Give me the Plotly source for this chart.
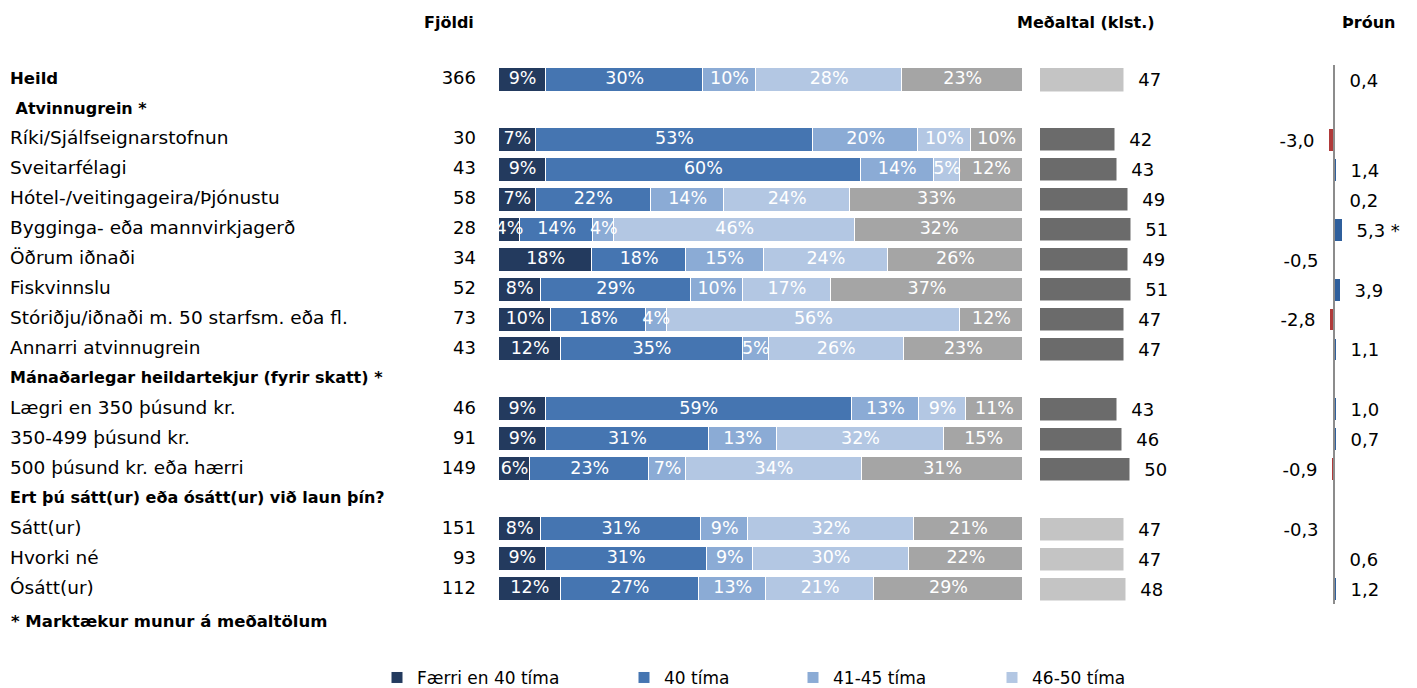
import plotly.graph_objects as go

# ---------------- data ----------------
row_labels = [
    "Heild", "Atvinnugrein *", "Ríki/Sjálfseignarstofnun", "Sveitarfélagi",
    "Hótel-/veitingageira/Þjónustu", "Bygginga- eða mannvirkjagerð", "Öðrum iðnaði",
    "Fiskvinnslu", "Stóriðju/iðnaði m. 50 starfsm. eða fl.", "Annarri atvinnugrein",
    "Mánaðarlegar heildartekjur (fyrir skatt) *", "Lægri en 350 þúsund kr.",
    "350-499 þúsund kr.", "500 þúsund kr. eða hærri",
    "Ert þú sátt(ur) eða ósátt(ur) við laun þín?", "Sátt(ur)", "Hvorki né", "Ósátt(ur)",
]
row_kind = ["total", "header", "item", "item", "item", "item", "item", "item", "item", "item",
            "header", "item", "item", "item", "header", "item", "item", "item"]
row_group = ["total", "industry", "industry", "industry", "industry", "industry", "industry",
             "industry", "industry", "industry", "income", "income", "income", "income",
             "satisfaction", "satisfaction", "satisfaction", "satisfaction"]
counts = [366, None, 30, 43, 58, 28, 34, 52, 73, 43, None, 46, 91, 149, None, 151, 93, 112]

series_names = ["Færri en 40 tíma", "40 tíma", "41-45 tíma", "46-50 tíma", "Meira en 50 tíma"]
pct_under_40 = [9, None, 7, 9, 7, 4, 18, 8, 10, 12, None, 9, 9, 6, None, 8, 9, 12]
pct_40 = [30, None, 53, 60, 22, 14, 18, 29, 18, 35, None, 59, 31, 23, None, 31, 31, 27]
pct_41_45 = [10, None, 20, 14, 14, 4, 15, 10, 4, 5, None, 13, 13, 7, None, 9, 9, 13]
pct_46_50 = [28, None, 10, 5, 24, 46, 24, 17, 56, 26, None, 9, 32, 34, None, 32, 30, 21]
pct_over_50 = [23, None, 10, 12, 33, 32, 26, 37, 12, 23, None, 11, 15, 31, None, 21, 22, 29]

mean_hours = [47, None, 42, 43, 49, 51, 49, 51, 47, 47, None, 43, 46, 50, None, 47, 47, 48]
trend = [0.4, None, -3.0, 1.4, 0.2, 5.3, -0.5, 3.9, -2.8, 1.1, None, 1.0, 0.7, -0.9, None, -0.3, 0.6, 1.2]
trend_significant = [False, False, False, False, False, True, False, False, False, False,
                     False, False, False, False, False, False, False, False]

col_headers = ["Fjöldi", "Meðaltal (klst.)", "Þróun"]
footnote = "* Marktækur munur á meðaltölum"

# ---------------- style ----------------
W, H = 1417, 688
OFF = 8  # page body margin
FONT = "DejaVu Sans"
seg_colors = ["#233a5e", "#4575b1", "#8babd5", "#b3c7e3", "#a5a5a5"]
light_mean, dark_mean = "#c4c4c4", "#6b6b6b"
neg_color, pos_color = "#b03a3a", "#2f5f9c"

rows = list(range(len(row_labels)))
all_series = [pct_under_40, pct_40, pct_41_45, pct_46_50, pct_over_50]

top, bottom = 64.5 - OFF, 604 - OFF   # plot area, figure px


def px(x_page):
    return (x_page - OFF) / W


def py(y_page):
    return (bottom - (y_page - OFF)) / (bottom - top)


fig = go.Figure()

# row labels
lab_text, lab_size = [], []
for lab, kind in zip(row_labels, row_kind):
    if kind == "header":
        lab_text.append("<b>" + ("\u00a0" + lab if lab.startswith("Atvinnu") else lab) + "</b>")
        lab_size.append(16)
    elif kind == "total":
        lab_text.append("<b>" + lab + "</b>")
        lab_size.append(16.5)
    else:
        lab_text.append(lab)
        lab_size.append(18.5)

fig.add_trace(go.Scatter(
    x=[0] * len(rows), y=rows, mode="text", text=lab_text, textposition="middle right",
    textfont=dict(family=FONT, size=lab_size, color="black"),
    xaxis="x", yaxis="y", cliponaxis=False, showlegend=False, hoverinfo="skip"))

cnt_rows = [r for r, c in zip(rows, counts) if c is not None]
cnt_vals = [str(c) for c in counts if c is not None]
fig.add_trace(go.Scatter(
    x=[1] * len(cnt_rows), y=cnt_rows, mode="text", text=cnt_vals, textposition="middle left",
    textfont=dict(family=FONT, size=18, color="black"),
    xaxis="x", yaxis="y", cliponaxis=False, showlegend=False, hoverinfo="skip"))

# stacked distribution (shares normalised so each row fills 100 %)
row_tot = []
for r in rows:
    vals = [s[r] for s in all_series]
    row_tot.append(sum(vals) if vals[0] is not None else None)

lab_x, lab_y, lab_t = [], [], []
cum = [0.0] * len(rows)
for i, (name, vals) in enumerate(zip(series_names, all_series)):
    shares = [v / t * 100 if v is not None else None for v, t in zip(vals, row_tot)]
    fig.add_trace(go.Bar(
        y=rows, x=shares, orientation="h", name=name,
        marker=dict(color=seg_colors[i], line=dict(color="white", width=1)),
        width=0.8, xaxis="x2", yaxis="y",
        showlegend=i < 4,
        legend="legend" if i == 0 else f"legend{i + 1}",
        hoverinfo="skip"))
    for r, (v, s) in enumerate(zip(vals, shares)):
        if v is None:
            continue
        lab_x.append(cum[r] + s / 2)
        lab_y.append(r)
        lab_t.append(f"{v}%")
        cum[r] += s

fig.add_trace(go.Scatter(
    x=lab_x, y=lab_y, mode="text", text=lab_t, textposition="middle center",
    textfont=dict(family=FONT, size=17.5, color="white"),
    xaxis="x2", yaxis="y", cliponaxis=False, showlegend=False, hoverinfo="skip"))

# mean hours
mean_colors = [light_mean if g in ("total", "satisfaction") else dark_mean for g in row_group]
fig.add_trace(go.Bar(
    y=rows, x=mean_hours, orientation="h", width=0.77,
    marker=dict(color=mean_colors, line=dict(color="white", width=0.5)),
    text=["\u00a0\u00a0" + str(v) if v is not None else "" for v in mean_hours],
    textposition="outside", constraintext="none", cliponaxis=False,
    textfont=dict(family=FONT, size=18, color="black"),
    xaxis="x3", yaxis="y", showlegend=False, hoverinfo="skip"))

# trend
trend_text = []
for v, s in zip(trend, trend_significant):
    if v is None:
        trend_text.append("")
        continue
    t = f"{v:.1f}".replace(".", ",") + (" *" if s else "")
    trend_text.append(t + "\u00a0\u00a0" if v < 0 else "\u00a0\u00a0" + t)
trend_colors = [neg_color if (v is not None and v < 0) else pos_color for v in trend]
fig.add_trace(go.Bar(
    y=rows, x=trend, orientation="h", width=0.73,
    marker=dict(color=trend_colors, line=dict(width=0)),
    text=trend_text, textposition="outside", constraintext="none", cliponaxis=False,
    textfont=dict(family=FONT, size=18, color="black"),
    xaxis="x4", yaxis="y", showlegend=False, hoverinfo="skip"))

# column headers & footnote
hdr_font = dict(family=FONT, size=16, color="black")
fig.add_annotation(x=px(476), y=py(22), xref="paper", yref="paper", text="<b>" + col_headers[0] + "</b>",
                   showarrow=False, xanchor="right", yanchor="middle", font=hdr_font)
fig.add_annotation(x=px(1086), y=py(22), xref="paper", yref="paper", text="<b>" + col_headers[1] + "</b>",
                   showarrow=False, xanchor="center", yanchor="middle", font=hdr_font)
fig.add_annotation(x=px(1368), y=py(22), xref="paper", yref="paper", text="<b>" + col_headers[2] + "</b>",
                   showarrow=False, xanchor="center", yanchor="middle", font=hdr_font)
fig.add_annotation(x=px(9), y=py(622), xref="paper", yref="paper", text="<b>" + footnote + "</b>",
                   showarrow=False, xanchor="left", yanchor="middle",
                   font=dict(family=FONT, size=16.5, color="black"))

legend_common = dict(orientation="h", yanchor="middle", xanchor="left", y=py(678),
                     font=dict(family=FONT, size=17, color="black"), itemwidth=30,
                     bgcolor="rgba(0,0,0,0)", traceorder="normal")
legend_marker_centres = [401, 648, 817, 1016]
legend_x = [px(c - 24) for c in legend_marker_centres]

fig.update_layout(
    width=W, height=H,
    margin=dict(l=0, r=0, t=top, b=H - bottom),
    paper_bgcolor="white", plot_bgcolor="white",
    barmode="stack", bargap=0,
    xaxis=dict(domain=[px(10), px(476)], range=[0, 1], visible=False, fixedrange=True),
    xaxis2=dict(domain=[px(499), px(1023)], range=[0, 100], visible=False, anchor="y"),
    xaxis3=dict(domain=[px(1040), px(1160)], range=[0, 120 / 1.79], visible=False, anchor="y"),
    xaxis4=dict(domain=[px(1290), px(1410)], range=[-44 / 1.55, 76 / 1.55], anchor="y",
                showgrid=False, showticklabels=False, ticks="", showline=False,
                zeroline=True, zerolinecolor="#8c8c8c", zerolinewidth=2),
    yaxis=dict(range=[len(rows) - 0.5, -0.5], visible=False),
    legend=dict(x=legend_x[0], **legend_common),
    legend2=dict(x=legend_x[1], **legend_common),
    legend3=dict(x=legend_x[2], **legend_common),
    legend4=dict(x=legend_x[3], **legend_common),
    showlegend=True,
)
try:
    fig.update_layout(xaxis4_zerolinelayer="above traces")
except Exception:
    pass

fig.write_html("out.html")
